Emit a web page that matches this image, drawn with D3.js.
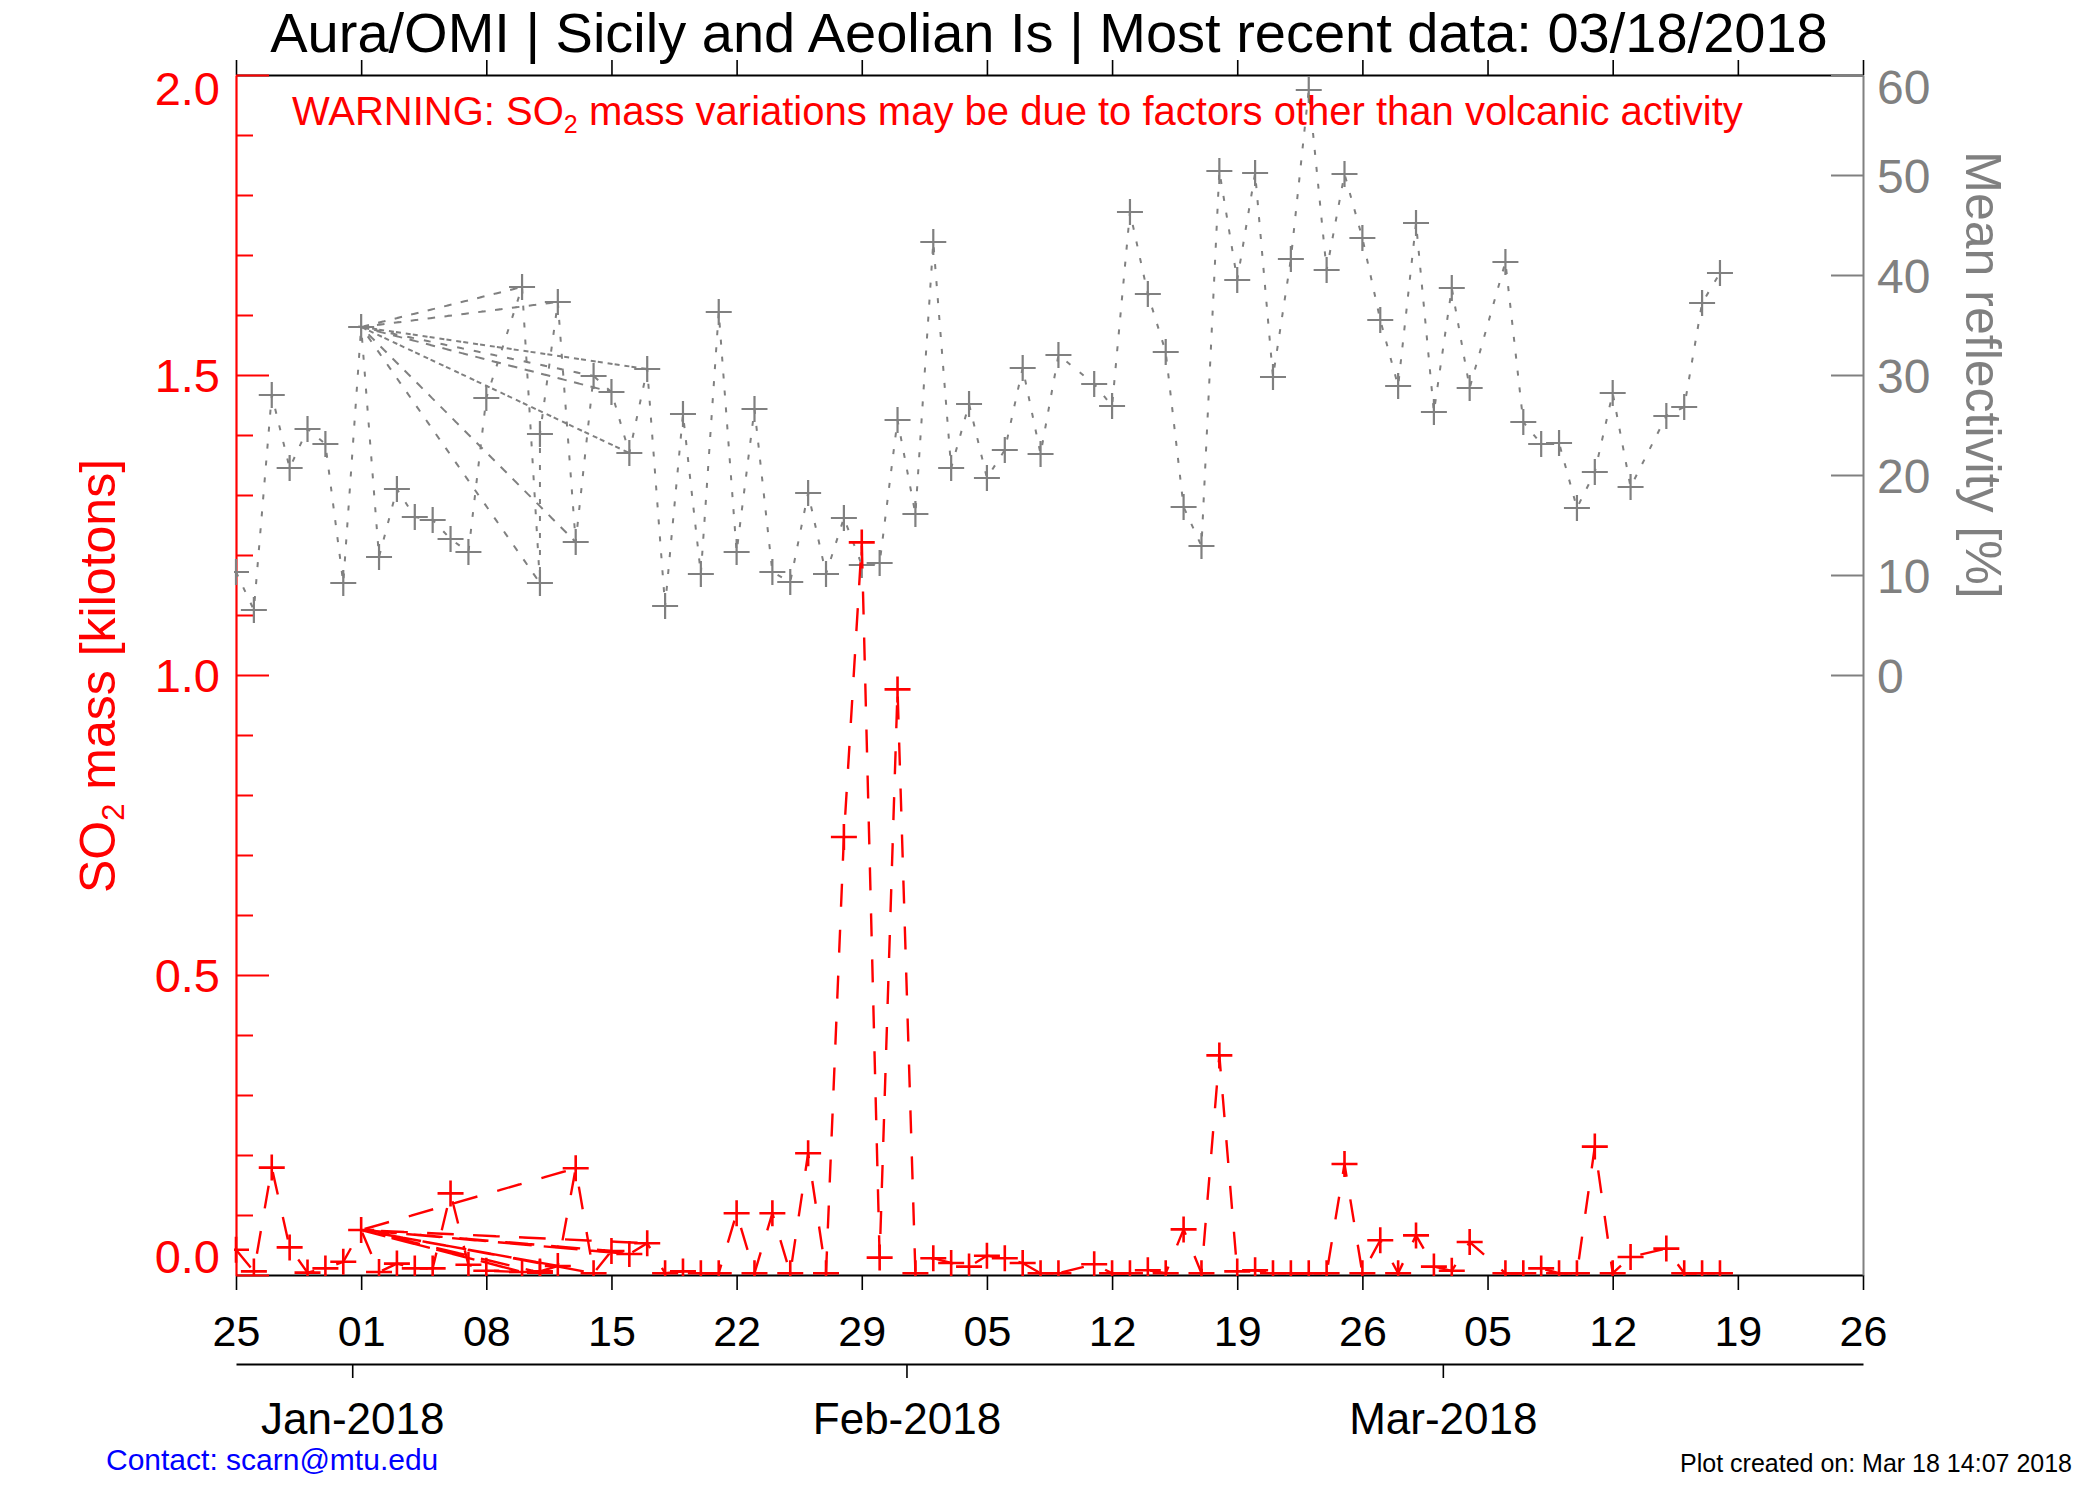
<!DOCTYPE html>
<html><head><meta charset="utf-8">
<script src="https://cdn.jsdelivr.net/npm/d3@7"></script>
<style>body{margin:0;background:#fff}</style>
</head><body>
<svg id="chart" width="2100" height="1500"></svg>
<script>
// ---------------- data (chronological records) ----------------
const dates = [
 "2017-12-25","2017-12-26","2017-12-27","2017-12-28","2017-12-29","2017-12-30","2017-12-31",
 "2018-01-01","2018-01-02","2018-01-03","2018-01-04","2018-01-05","2018-01-06","2018-01-07","2018-01-08",
 "2018-01-10","2018-01-11","2018-01-11","2018-01-12","2018-01-13","2018-01-14","2018-01-15","2018-01-16",
 "2018-01-17","2018-01-18","2018-01-19","2018-01-20","2018-01-21","2018-01-22","2018-01-23","2018-01-24",
 "2018-01-25","2018-01-26","2018-01-27","2018-01-28","2018-01-29","2018-01-30","2018-01-31",
 "2018-02-01","2018-02-02","2018-02-03","2018-02-04","2018-02-05","2018-02-06","2018-02-07","2018-02-08","2018-02-09",
 "2018-02-11","2018-02-12","2018-02-13","2018-02-14","2018-02-15","2018-02-16","2018-02-17","2018-02-18","2018-02-19",
 "2018-02-20","2018-02-21","2018-02-22","2018-02-23","2018-02-24","2018-02-25","2018-02-26","2018-02-27","2018-02-28",
 "2018-03-01","2018-03-02","2018-03-03","2018-03-04",
 "2018-03-06","2018-03-07","2018-03-08","2018-03-09","2018-03-10","2018-03-11","2018-03-12","2018-03-13",
 "2018-03-15","2018-03-16","2018-03-17","2018-03-18"
];
const so2 = [
 0.042,0.006,0.179,0.046,0.004,0.011,0.022,
 0.075,0.005,0.019,0.011,0.011,0.136,0.017,0.007,
 0.005,0.006,0.004,0.015,0.178,0.003,0.040,0.035,
 0.053,0.003,0.006,0.003,0.003,0.103,0.003,0.103,
 0.003,0.203,0.003,0.730,1.221,0.029,0.976,
 0.003,0.028,0.020,0.014,0.032,0.028,0.020,0.003,0.003,
 0.018,0.003,0.003,0.008,0.003,0.076,0.003,0.366,0.006,
 0.008,0.003,0.003,0.003,0.003,0.185,0.003,0.058,0.003,
 0.066,0.014,0.007,0.055,
 0.003,0.003,0.011,0.003,0.003,0.214,0.003,0.030,
 0.044,0.003,0.003,0.003
];
const reflectivity = [
 10.3,6.5,28.0,20.7,24.6,23.1,9.2,
 34.8,11.8,18.6,15.8,15.5,13.6,12.3,27.7,
 38.8,24.1,9.2,37.3,13.3,29.9,28.3,22.2,
 30.6,6.9,26.1,10.1,36.3,12.3,26.6,10.3,
 9.3,18.2,10.1,15.7,11.0,11.2,25.5,
 16.1,43.3,20.7,27.1,19.7,22.5,30.7,22.1,32.0,
 29.1,26.9,46.3,38.1,32.3,16.8,12.9,50.4,39.5,
 50.2,29.8,41.6,58.5,40.5,50.1,43.7,35.5,28.9,
 45.2,26.3,38.7,28.7,
 41.3,25.3,23.1,23.2,16.7,20.3,28.2,18.8,
 25.9,26.8,37.2,40.2
];
// order in which the records are joined by the lines (record indices; the 01 Jan record recurs)
const drawOrder = [0,1,2,3,4,5,6,7,15,7,17,7,18,7,19,7,20,7,21,7,22,7,23,7,
 8,9,10,11,12,13,14,15,17,16,18,19,20,21,22,23,24,25,26,27,28,29,30,31,32,33,34,35,36,37,
 38,39,40,41,42,43,44,45,46,47,48,49,50,51,52,53,54,55,56,57,58,59,60,61,62,63,64,
 65,66,67,68,69,70,71,72,73,74,75,76,77,78,79,80];

const dayTickLabels = ["25","01","08","15","22","29","05","12","19","26","05","12","19","26"];
const monthTickDates = ["2017-12-31T12:00","2018-01-31T12:00","2018-03-02T12:00"];
const monthTickLabels = ["Jan-2018","Feb-2018","Mar-2018"];
const so2Ticks = [0,0.5,1.0,1.5,2.0];
const so2TickLabels = ["0.0","0.5","1.0","1.5","2.0"];
const reflTicks = [0,10,20,30,40,50,60];

// ---------------- setup ----------------
const FONT = "'Liberation Sans', Arial, Helvetica, sans-serif";
const RED = "#ff0000", GRAY = "#808080";
const svg = d3.select("#chart");
svg.append("rect").attr("width",2100).attr("height",1500).attr("fill","#fff");

const t0 = Date.UTC(2017,11,25);
const dayOf = s => (Date.parse(s + (s.length > 10 ? ":00Z" : "T00:00:00Z")) - t0) / 864e5;

const x = d3.scaleLinear().domain([0,91]).range([236,1863]);
const yL = d3.scaleLinear().domain([0,2]).range([1275,75]);
const yR = d3.scaleLinear().domain([-60,60]).range([1275,75]);

const dayTickDays = dayTickLabels.map((_,i)=>i*7);

function styleText(sel, size, color){
  sel.attr("font-family",FONT).attr("font-size",size).attr("fill",color);
}

// bottom axis
const gB = svg.append("g").attr("transform",`translate(0,${yL(0)})`)
  .call(d3.axisBottom(x).tickValues(dayTickDays).tickFormat((d,i)=>dayTickLabels[i]).tickSizeInner(15).tickSizeOuter(0));
gB.select(".domain").attr("stroke","#000").attr("stroke-width",2);
gB.selectAll(".tick line").attr("stroke","#000").attr("stroke-width",1.6);
gB.selectAll(".tick text").attr("y",71).attr("dy",null).call(styleText,43,"#000");

// top axis
const gT = svg.append("g").attr("transform",`translate(0,${yL(2)})`)
  .call(d3.axisTop(x).tickValues(dayTickDays).tickFormat(()=>"").tickSizeInner(15).tickSizeOuter(0));
gT.select(".domain").attr("stroke","#000").attr("stroke-width",2);
gT.selectAll(".tick line").attr("stroke","#000").attr("stroke-width",1.6);

// month axis
const gM = svg.append("g").attr("transform","translate(0,1364)")
  .call(d3.axisBottom(x).tickValues(monthTickDates.map(dayOf)).tickFormat((d,i)=>monthTickLabels[i]).tickSizeInner(14).tickSizeOuter(0));
gM.select(".domain").attr("stroke","#000").attr("stroke-width",2);
gM.selectAll(".tick line").attr("stroke","#000").attr("stroke-width",1.6);
gM.selectAll(".tick text").attr("y",70).attr("dy",null).call(styleText,44,"#000");

// left (SO2) axis: minor then major
const minorVals = d3.range(0,21).map(i=>i/10).filter(v=>Math.abs(v*2-Math.round(v*2))>1e-6);
const gLm = svg.append("g").attr("transform",`translate(${x(0)},0)`)
  .call(d3.axisLeft(yL).tickValues(minorVals).tickFormat(()=>"").tickSizeInner(-17).tickSizeOuter(0));
gLm.select(".domain").remove();
gLm.selectAll(".tick line").attr("stroke",RED).attr("stroke-width",2);
const gL = svg.append("g").attr("transform",`translate(${x(0)},0)`)
  .call(d3.axisLeft(yL).tickValues(so2Ticks).tickFormat((d,i)=>so2TickLabels[i]).tickSizeInner(-33).tickSizeOuter(0).tickPadding(16));
gL.select(".domain").attr("stroke",RED).attr("stroke-width",2.2);
gL.selectAll(".tick line").attr("stroke",RED).attr("stroke-width",2);
gL.selectAll(".tick text").call(styleText,47,RED)
  .attr("dy",d=> d===2 ? "0.62em" : d===0 ? "-0.06em" : "0.36em");

// right (reflectivity) axis
const gR = svg.append("g").attr("transform",`translate(${x(91)},0)`)
  .call(d3.axisRight(yR).tickValues(reflTicks).tickSizeInner(-32).tickSizeOuter(0).tickPadding(14));
gR.select(".domain").attr("stroke",GRAY).attr("stroke-width",2);
gR.selectAll(".tick line").attr("stroke",GRAY).attr("stroke-width",2);
gR.selectAll(".tick text").call(styleText,48,GRAY)
  .attr("dy",d=> d===60 ? "0.6em" : "0.36em");

// ---------------- data layers ----------------
svg.append("clipPath").attr("id","plotclip").append("rect")
  .attr("x",234).attr("y",73).attr("width",1631).attr("height",1203);
const plot = svg.append("g").attr("clip-path","url(#plotclip)");

const recs = dates.map((d,i)=>({day:dayOf(d), so2:so2[i], refl:reflectivity[i]}));
const seq = drawOrder.map(i=>recs[i]);
const cross = "M-13,0H13M0,-13V13";

// reflectivity (gray dotted)
plot.append("path").datum(seq)
  .attr("d", d3.line().x(r=>x(r.day)).y(r=>yR(r.refl)))
  .attr("fill","none").attr("stroke",GRAY).attr("stroke-width",2)
  .attr("stroke-dasharray","5,12");
plot.append("g").selectAll("path").data(recs).join("path")
  .attr("transform",r=>`translate(${x(r.day)},${yR(r.refl)})`)
  .attr("d",cross).attr("stroke",GRAY).attr("stroke-width",2.2).attr("fill","none");

// SO2 (red dashed)
plot.append("path").datum(seq)
  .attr("d", d3.line().x(r=>x(r.day)).y(r=>yL(r.so2)))
  .attr("fill","none").attr("stroke",RED).attr("stroke-width",2.4)
  .attr("stroke-dasharray","23,23");
plot.append("g").selectAll("path").data(recs).join("path")
  .attr("transform",r=>`translate(${x(r.day)},${yL(r.so2)})`)
  .attr("d",cross).attr("stroke",RED).attr("stroke-width",2.6).attr("fill","none");

// ---------------- texts ----------------
svg.append("text").attr("x",1049).attr("y",52).attr("text-anchor","middle")
  .call(styleText,56,"#000")
  .text("Aura/OMI | Sicily and Aeolian Is | Most recent data: 03/18/2018");

const warn = svg.append("text").attr("x",292).attr("y",125).call(styleText,40,RED);
warn.append("tspan").text("WARNING: SO");
warn.append("tspan").attr("font-size",25).attr("dy",8).text("2");
warn.append("tspan").attr("dy",-8).text(" mass variations may be due to factors other than volcanic activity");

const yl = svg.append("text").attr("transform","translate(115,676) rotate(-90)")
  .attr("text-anchor","middle").call(styleText,50,RED);
yl.append("tspan").text("SO");
yl.append("tspan").attr("font-size",31).attr("dy",9).text("2");
yl.append("tspan").attr("dy",-9).text(" mass [kilotons]");

svg.append("text").attr("transform","translate(1966,375) rotate(90)")
  .attr("text-anchor","middle").call(styleText,50,GRAY)
  .text("Mean reflectivity [%]");

svg.append("text").attr("x",106).attr("y",1470).call(styleText,30,"#0000ff")
  .text("Contact: scarn@mtu.edu");
svg.append("text").attr("x",2072).attr("y",1472).attr("text-anchor","end").call(styleText,25,"#000")
  .text("Plot created on: Mar 18 14:07 2018");
</script>
</body></html>
